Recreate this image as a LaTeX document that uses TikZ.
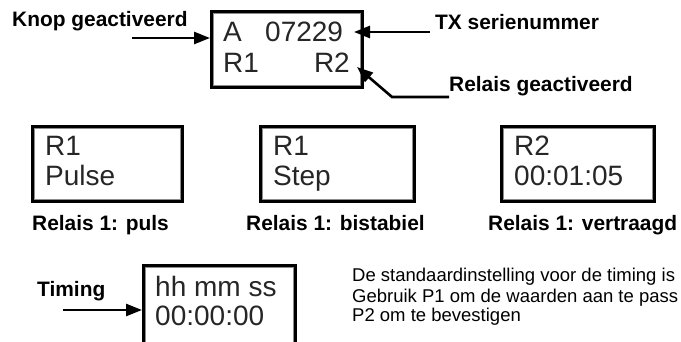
\documentclass[tikz,border=0pt]{standalone}
\usepackage{fontspec}
\setmainfont{Liberation Sans}
\usetikzlibrary{arrows.meta,calc}
\begin{document}
\begin{tikzpicture}[x=1pt,y=-1pt,
  lbl/.style={font=\fontsize{20.9}{24}\selectfont\bfseries, inner sep=0pt, anchor=base west},
  lcd/.style={font=\fontsize{28}{30}\selectfont, text=black!85, inner sep=0pt, anchor=base west},
  note/.style={font=\fontsize{18.5}{20}\selectfont, inner sep=0pt, anchor=base west},
  lcdbox/.style={draw=black, line width=3pt, fill=white, inner sep=0pt, anchor=north west,
    path picture={\draw[black!45,line width=1.1pt]
      ([shift={(2.3pt,-2.3pt)}]path picture bounding box.north west) rectangle
      ([shift={(-2.3pt,2.3pt)}]path picture bounding box.south east);}},
  arr/.style={line width=2.6pt, -{Triangle[length=16pt,width=12pt]}}
]
\useasboundingbox (0,0) rectangle (681,342);

% ---- top display ----
\node[lcdbox, minimum width=151pt, minimum height=76pt] (top) at (210,10) {};
\node[lcd] (tA) at (223,42) {A};
\node[lcd] (tnum) at (265,42) {07229};
\node[lcd] (tR1) at (223,73) {R1};
\node[lcd, anchor=base east] (tR2) at (350,73) {R2};

\node[lbl] (knop) at (12,27) {Knop geactiveerd};
\node[lbl] (tx) at (435,30) {TX serienummer};
\node[lbl] (rel) at (449,92) {Relais geactiveerd};

\coordinate (kstart) at (132,38);
\draw[arr] (kstart) -- (kstart -| top.west);
\coordinate (txstart) at (430,32);
\coordinate (txtip) at (354,32);
\draw[arr] (txstart) -- (txtip);
\coordinate (rstart) at (449,97);
\coordinate (rbend) at (392,97);
\coordinate (rtip) at (357,67);
\draw[arr] (rstart) -- (rbend) -- (rtip);

% ---- middle row ----
\node[lcdbox, minimum width=150pt, minimum height=75pt] (b1) at (31,125) {};
\node[lcd] (b1a) at (45,156) {R1};
\node[lcd] (b1b) at (45,186) {Pulse};
\node[lbl] (l1) at (32,231) {Relais 1: puls};

\node[lcdbox, minimum width=154pt, minimum height=75pt] (b2) at (259,125) {};
\node[lcd] (b2a) at (273,156) {R1};
\node[lcd] (b2b) at (273,186) {Step};
\node[lbl] (l2) at (246,231) {Relais 1: bistabiel};

\node[lcdbox, minimum width=153pt, minimum height=75pt] (b3) at (500,125) {};
\node[lcd] (b3a) at (514,156) {R2};
\node[lcd] (b3b) at (514,186) {00:01:05};
\node[lbl] (l3) at (488,231) {Relais 1: vertraagd};

% ---- bottom ----
\node[lcdbox, minimum width=152pt, minimum height=80pt] (b4) at (142,264) {};
\node[lcd] (b4a) at (155,296) {hh mm ss};
\node[lcd] (b4b) at (155,326) {00:00:00};
\node[lbl] (tim) at (37,297) {Timing};
\coordinate (tstart) at (63,310);
\draw[arr] (tstart) -- (tstart -| b4.west);

\node[note] (n1) at (352,282) {De standaardinstelling voor de timing is};
\node[note] (n2) at (352,302) {Gebruik P1 om de waarden aan te pass};
\node[note] (n3) at (352,322) {P2 om te bevestigen};
\end{tikzpicture}
\end{document}
